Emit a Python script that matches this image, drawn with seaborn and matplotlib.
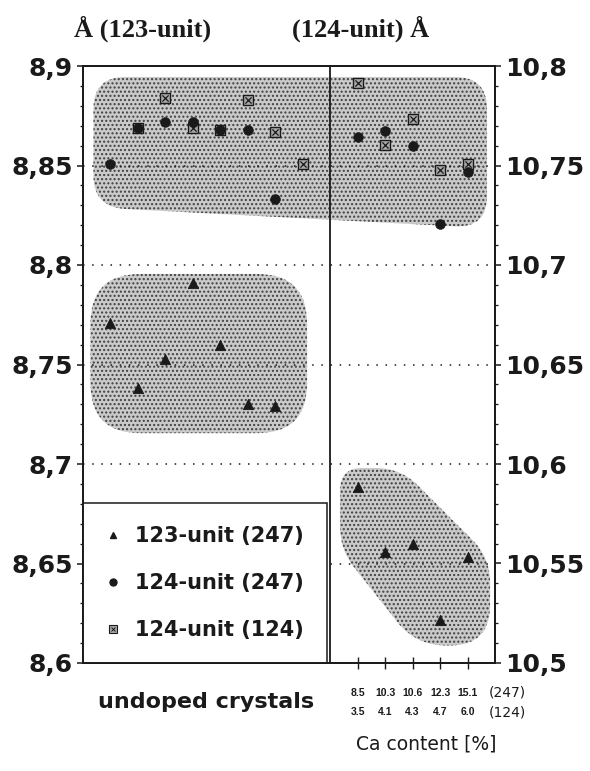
import numpy as np
import matplotlib
matplotlib.use('Agg')
import matplotlib.pyplot as plt
import matplotlib.transforms as mtransforms
import seaborn as sns
from matplotlib.path import Path
from matplotlib.patches import PathPatch
from matplotlib.lines import Line2D
from matplotlib.ticker import FixedLocator, MultipleLocator, FuncFormatter

sns.set_theme(style='ticks')
plt.rcParams['font.family'] = ['DejaVu Sans']
plt.rcParams.update({'text.color': 'k', 'axes.labelcolor': 'k',
                     'xtick.color': 'k', 'ytick.color': 'k', 'axes.edgecolor': 'k'})

# undoped crystals, left axis (123-unit scale, Angstrom)
undoped_pos = [1, 2, 3, 4, 5, 6, 7]
undoped_123_247 = [8.771, 8.738, 8.753, 8.791, 8.760, 8.730, 8.729]
undoped_124_247 = [8.851, 8.869, 8.872, 8.872, 8.868, 8.868, 8.833]
undoped_sq_pos = [2, 3, 4, 5, 6, 7, 8]
undoped_124_124 = [8.869, 8.884, 8.869, 8.868, 8.883, 8.867, 8.851]

# Ca doped crystals, right axis (124-unit scale, Angstrom)
ca_pos = [10, 11, 12, 13, 14]
ca_247 = ['8.5', '10.3', '10.6', '12.3', '15.1']
ca_124 = ['3.5', '4.1', '4.3', '4.7', '6.0']
ca_123_247 = [10.5885, 10.5559, 10.5599, 10.5218, 10.5534]
ca_124_247 = [10.7643, 10.7673, 10.7598, 10.7206, 10.7467]
ca_124_124 = [10.7915, 10.7603, 10.7734, 10.7477, 10.7508]

left_ticks = [8.6, 8.65, 8.7, 8.75, 8.8, 8.85, 8.9]
right_ticks = [10.5, 10.55, 10.6, 10.65, 10.7, 10.75, 10.8]
labels = ['123-unit (247)', '124-unit (247)', '124-unit (124)']

fig = plt.figure(figsize=(5.9, 7.71), dpi=100)
ax = fig.add_axes([83 / 590, 1 - 663 / 771, 412 / 590, 597 / 771])
ax.set_xlim(0, 15)
ax.set_ylim(left_ticks[0], left_ticks[-1])
ax2 = ax.twinx()
ax2.set_ylim(right_ticks[0], right_ticks[-1])
shift = right_ticks[0] - left_ticks[0]


def blob(corners, radii):
    # rounded outline (pixel radii) around a group of points
    pts = ax.transData.transform(np.asarray(corners, float))
    verts, codes = [], []
    n = len(pts)
    for i in range(n):
        p, a, b = pts[i], pts[i - 1], pts[(i + 1) % n]
        ua = (a - p) / np.hypot(*(a - p))
        ub = (b - p) / np.hypot(*(b - p))
        verts += [p + ua * radii[i], p, p + ub * radii[i]]
        codes += [Path.MOVETO if i == 0 else Path.LINETO, Path.CURVE3, Path.CURVE3]
    verts.append(verts[0])
    codes.append(Path.CLOSEPOLY)
    path = Path(ax.transData.inverted().transform(np.array(verts)), codes)
    ax.add_patch(PathPatch(path, facecolor='#cacaca', edgecolor='none', lw=0, zorder=0.5))
    ax.add_patch(PathPatch(path, facecolor='none', edgecolor='#404040', hatch='....',
                           lw=0, zorder=0.6))


# shaded groups
top_r = np.array(ca_124_247 + ca_124_124) - shift
top_l = np.array(undoped_124_247 + undoped_124_124)
x0, x1 = min(undoped_pos) - 0.62, max(ca_pos) + 0.71
ytop = max(top_l.max(), top_r.max()) + 0.003
blob([(x0, ytop), (x1, ytop), (x1, top_r.min() - 0.002), (x0, top_l.min() - 0.004)],
     [32, 32, 32, 32])

tri = np.array(undoped_123_247)
blob([(min(undoped_pos) - 0.73, tri.max() + 0.0045), (max(undoped_pos) + 1.16, tri.max() + 0.0045),
      (max(undoped_pos) + 1.16, tri.min() - 0.0135), (min(undoped_pos) - 0.73, tri.min() - 0.0135)],
     [50, 50, 50, 50])

rt = np.array(ca_123_247) - shift
cx0, cx1 = min(ca_pos) - 0.64, max(ca_pos) + 0.82
rtop, rbot = rt.max() + 0.0095, rt.min() - 0.013
blob([(cx0, rtop), (cx0 + 2.2, rtop), (cx1, rtop - 0.045), (cx1, rbot),
      (cx1 - 2.7, rbot), (cx0, rtop - 0.041)],
     [22, 25, 25, 40, 30, 22])

# points, left panel
sns.scatterplot(x=undoped_sq_pos, y=undoped_124_124, marker='s', s=48, color='#a8a8a8',
                edgecolor='k', linewidth=1, ax=ax, zorder=3)
sns.scatterplot(x=undoped_sq_pos, y=undoped_124_124, marker='x', s=20, color='k',
                linewidth=0.9, ax=ax, zorder=3.1)
sns.scatterplot(x=undoped_pos, y=undoped_124_247, marker='o', s=48, color='k',
                edgecolor='k', ax=ax, zorder=4)
sns.scatterplot(x=undoped_pos, y=undoped_123_247, marker='^', s=55, color='k',
                edgecolor='k', ax=ax, zorder=4)

# points, right panel
sns.scatterplot(x=ca_pos, y=ca_124_124, marker='s', s=48, color='#a8a8a8',
                edgecolor='k', linewidth=1, ax=ax2, zorder=3)
sns.scatterplot(x=ca_pos, y=ca_124_124, marker='x', s=20, color='k',
                linewidth=0.9, ax=ax2, zorder=3.1)
sns.scatterplot(x=ca_pos, y=ca_124_247, marker='o', s=48, color='k',
                edgecolor='k', ax=ax2, zorder=4)
sns.scatterplot(x=ca_pos, y=ca_123_247, marker='^', s=55, color='k',
                edgecolor='k', ax=ax2, zorder=4)

# axes styling
ax.axvline((max(undoped_sq_pos) + min(ca_pos)) / 2, color='k', lw=1.3, zorder=2)
for s in ax.spines.values():
    s.set_linewidth(1.3)
    s.set_color('k')
fmt = FuncFormatter(lambda v, _: f'{v:g}'.replace('.', ','))
ax.yaxis.set_major_locator(FixedLocator(left_ticks))
ax.yaxis.set_minor_locator(MultipleLocator(0.01))
ax.yaxis.set_major_formatter(fmt)
ax2.yaxis.set_major_locator(FixedLocator(right_ticks))
ax2.yaxis.set_minor_locator(MultipleLocator(0.01))
ax2.yaxis.set_major_formatter(fmt)
for a in (ax, ax2):
    a.tick_params(axis='y', which='major', direction='out', length=4.5, width=1.1,
                  color='k', labelcolor='k', labelsize=18, pad=3)
    a.tick_params(axis='y', which='minor', direction='out', length=2.5, width=0.9, color='k')
    for t in a.get_yticklabels():
        t.set_fontweight('bold')
ax.set_xticks(ca_pos)
ax.tick_params(axis='x', which='major', direction='inout', length=8, width=1, color='k',
               labelbottom=False)
ax.set_xlabel('')
ax.set_ylabel('')
ax2.set_ylabel('')
ax.set_axisbelow(False)
ax.yaxis.grid(True, which='major', color='k', lw=1.1, ls=(0, (1, 5)))

# legend
sq = Line2D([], [], marker='s', ls='', ms=5.5, mfc='#a8a8a8', mec='k', mew=0.8)
sx = Line2D([], [], marker='x', ls='', ms=3.5, color='k', mew=0.7)
handles = [Line2D([], [], marker='^', ls='', ms=5, color='k'),
           Line2D([], [], marker='o', ls='', ms=5, color='k'),
           (sq, sx)]
frac = (max(undoped_sq_pos) + min(ca_pos)) / 2 / 15
leg = ax.legend(handles, labels, loc='lower left', bbox_to_anchor=(0, 0, frac - 0.007, 0.27),
                mode='expand', borderaxespad=0, fancybox=False, framealpha=1,
                edgecolor='k', prop={'size': 15, 'weight': 'bold'}, handlelength=0.7,
                handletextpad=0.7, labelspacing=1.3, borderpad=1.1)
leg.get_frame().set_linewidth(1.1)
leg.set_zorder(5)
for t in leg.get_texts():
    t.set_color('k')

# headers and bottom labels
fig.text(143 / 590, 1 - 37 / 771, 'Å (123-unit)', ha='center', va='baseline',
         family='Liberation Serif', weight='bold', fontsize=19)
fig.text(361 / 590, 1 - 37 / 771, '(124-unit) Å', ha='center', va='baseline',
         family='Liberation Serif', weight='bold', fontsize=19)
fig.text(206 / 590, 1 - 702 / 771, 'undoped crystals', ha='center', va='center',
         weight='bold', fontsize=16)
trans = mtransforms.blended_transform_factory(ax.transData, fig.transFigure)
for p, a, b in zip(ca_pos, ca_247, ca_124):
    ax.text(p, 1 - 693 / 771, a, transform=trans, ha='center', va='center',
            family='Liberation Sans', weight='bold', fontsize=7.5)
    ax.text(p, 1 - 712 / 771, b, transform=trans, ha='center', va='center',
            family='Liberation Sans', weight='bold', fontsize=7.5)
ax.text(15.45, 1 - 693 / 771, '(247)', transform=trans, ha='center', va='center', fontsize=10)
ax.text(15.45, 1 - 712 / 771, '(124)', transform=trans, ha='center', va='center', fontsize=10)
fig.text(426 / 590, 1 - 744 / 771, 'Ca content [%]', ha='center', va='center', fontsize=13.5)

fig.savefig('out.png', dpi=100)
